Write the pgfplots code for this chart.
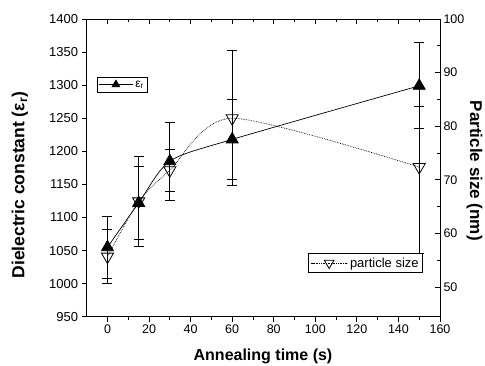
\documentclass[border=0pt]{standalone}
\usepackage{pgfplots}
\pgfplotsset{compat=1.18}
\usepackage{fontspec}
\setmainfont{Liberation Sans}
\begin{document}
\begin{tikzpicture}
\path[use as bounding box] (-86.7pt,-48.3pt) rectangle (398.3pt,316.7pt);
\pgfplotsset{
  common/.style={
    at={(0pt,0pt)}, anchor=south west,
    scale only axis, width=353.3pt, height=297.7pt,
    xmin=-10, xmax=160,
    xtick={0,20,...,160}, minor x tick num=1,
    axis line style={line width=1pt},
    every tick/.style={black, line width=0.9pt},
    major tick length=5pt, minor tick length=3pt,
    /pgf/number format/assume math mode=true,
    /pgf/number format/1000 sep={},
    ticklabel style={font=\fontsize{12.5}{14}\selectfont},
  },
}
\begin{axis}[common,
  ymin=950, ymax=1400, ytick={950,1000,...,1400},
  axis x line*=bottom, axis y line*=left,
  tick align=outside,
  y tick label style={font=\fontsize{13}{14}\selectfont},
  xlabel={Annealing time (s)},
  xlabel style={at={(axis description cs:0.499,-0.132)}, anchor=center, font=\bfseries\fontsize{16}{18}\selectfont},
  ylabel={Dielectric constant (ε\textsubscript{r})},
  every axis y label/.style={at={(axis description cs:-0.189,0.442)}, rotate=90, anchor=center, font=\bfseries\fontsize{17.5}{20}\selectfont},
  legend style={at={(0.028,0.806)}, anchor=north west, draw=black, line width=0.8pt, font=\fontsize{12}{13}\selectfont, inner sep=1.5pt},
  legend image code/.code={\draw[#1, mark size=4.5pt, mark repeat=2, mark phase=2] plot coordinates {(0cm,0cm) (0.6cm,0cm) (1.2cm,0cm)};},
]
\addplot[black, line width=0.7pt, smooth, tension=0.45, mark=triangle*, mark size=7pt,
  mark options={fill=black, solid},
  error bars/.cd, y dir=both, y explicit,
  error bar style={line width=1.1pt, black},
  error mark options={rotate=90, mark size=5pt, line width=1pt, black}]
table[x=x, y=y, y error plus=ep, y error minus=em] {
x   y     ep  em
0   1055  47  47
15  1122  55  55
30  1185  59  59
60  1218  61  61
150 1299  65  65
};
\addlegendentry{ε\textsubscript{r}}
\end{axis}
\begin{axis}[common,
  ymin=44.5, ymax=100, ytick={50,60,...,100}, minor y tick num=1,
  axis x line*=top, axis y line*=right,
  tick align=inside, xticklabels={},
  ylabel={Particle size (nm)},
  every axis y label/.style={at={(axis description cs:1.098,0.49)}, rotate=-90, anchor=center, font=\bfseries\fontsize{17}{20}\selectfont},
  legend style={at={(0.952,0.147)}, anchor=south east, draw=black, line width=0.8pt, font=\fontsize{13}{14}\selectfont, inner sep=2pt},
  legend image code/.code={\draw[#1, mark size=5.5pt, mark repeat=2, mark phase=2] plot coordinates {(0cm,0cm) (0.65cm,0cm) (1.3cm,0cm)};},
]
\addplot[black, line width=0.7pt, densely dotted, smooth, tension=0.45, mark=triangle, mark size=7pt,
  mark options={fill=white, solid, rotate=180, line width=0.8pt},
  error bars/.cd, y dir=both, y explicit,
  error bar style={line width=1pt, solid, black},
  error mark options={rotate=90, mark size=5pt, line width=1pt, solid, black}]
table[x=x, y=y, y error plus=ep, y error minus=em] {
x   y     ep    em
0   55.7  5.1   5.1
15  66.0  8.4   8.4
30  71.8  3.9   3.9
60  81.5  12.6  12.6
150 72.4  11.3  16.2
};
\addlegendentry{particle size}
\end{axis}
\end{tikzpicture}
\end{document}
